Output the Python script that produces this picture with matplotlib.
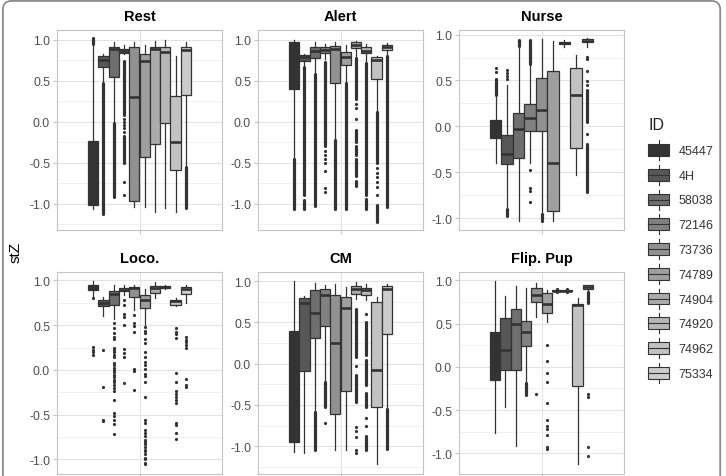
import numpy as np
import matplotlib
matplotlib.use("Agg")
import matplotlib.pyplot as plt
from matplotlib.patches import Rectangle, Patch, FancyBboxPatch
from matplotlib.lines import Line2D
from matplotlib.legend_handler import HandlerBase

plt.rcParams['font.family'] = ['Liberation Sans', 'DejaVu Sans']

# ---------------- data ----------------
IDS = ["45447", "4H", "58038", "72146", "73736", "74789", "74904", "74920", "74962", "75334"]
TITLES = ["Rest", "Alert", "Nurse", "Loco.", "CM", "Flip. Pup"]
Y_TICKS = [-1.0, -0.5, 0.0, 0.5, 1.0]

# Rest
REST_IDS = IDS
REST_WLO = [-1.065, 0.50, 0.015, 0.83, -1.045, -1.045, -1.106, -1.053, -1.106, -0.535]
REST_Q1 = [-1.02, 0.674, 0.552, 0.837, -0.963, -0.434, -0.27, -0.014, -0.585, 0.332]
REST_MED = [-0.99, 0.756, 0.89, 0.86, 0.307, 0.747, 0.89, 0.857, -0.25, 0.878]
REST_Q3 = [-0.23, 0.80, 0.91, 0.89, 0.91, 0.83, 0.91, 0.91, 0.312, 0.92]
REST_WHI = [0.95, 0.83, 0.98, 0.94, 0.97, 0.94, 0.985, 1.0, 0.81, 0.98]
REST_FLIERS = [[], [], [], [0.04, 0.0, -0.04, -0.08, -0.12, -0.74, -0.89], [], [], [], [], [], []]
REST_BANDS = [[(0.95, 1.02)], [(-1.13, 0.47)], [(-0.92, -0.01)], [(0.08, 0.74), (-0.50, -0.17)],
              [], [], [], [], [], [(-1.05, -0.55)]]

# Alert
ALERT_IDS = IDS
ALERT_WLO = [-0.455, 0.69, 0.585, 0.77, -0.21, 0.48, 0.80, 0.73, 0.137, 0.81]
ALERT_Q1 = [0.40, 0.747, 0.776, 0.837, 0.47, 0.695, 0.90, 0.837, 0.523, 0.88]
ALERT_MED = [0.95, 0.79, 0.87, 0.88, 0.89, 0.79, 0.94, 0.87, 0.76, 0.91]
ALERT_Q3 = [0.97, 0.815, 0.91, 0.91, 0.93, 0.85, 0.97, 0.91, 0.79, 0.94]
ALERT_WHI = [1.0, 0.83, 0.98, 0.95, 0.97, 0.94, 0.99, 0.95, 0.80, 0.96]
ALERT_FLIERS = [[], [], [], [-0.36, -0.41, -0.45, -0.5, -0.6, -0.81, -0.86], [], [],
                [0.22, 0.17, 0.03], [], [-0.56, -0.62, -0.68, -0.74, -0.80, -0.9], []]
ALERT_BANDS = [[(-1.065, -0.46)], [(-0.90, 0.67), (-1.06, -0.95)], [(-1.03, 0.58)], [(-0.30, 0.73)],
               [(-1.06, -0.22)], [(-1.06, 0.47)],
               [(0.28, 0.78), (-0.25, -0.10), (-0.41, -0.29), (-0.66, -0.45), (-0.78, -0.72)],
               [(-0.90, 0.72), (-1.06, -0.94)], [(-0.50, 0.12), (-1.22, -1.02)], [(-1.04, 0.80)]]

# Nurse (74920 absent)
NURSE_IDS = ["45447", "4H", "58038", "72146", "73736", "74789", "74904", "74962", "75334"]
NURSE_WLO = [-0.397, -0.88, -1.03, -0.40, -0.93, -1.03, 0.87, -0.528, 0.86]
NURSE_Q1 = [-0.126, -0.415, -0.345, -0.05, -0.05, -0.92, 0.895, -0.232, 0.916]
NURSE_MED = [-0.06, -0.30, -0.024, 0.086, 0.177, -0.40, 0.905, 0.342, 0.934]
NURSE_Q3 = [0.068, -0.09, 0.148, 0.24, 0.525, 0.598, 0.915, 0.634, 0.952]
NURSE_WHI = [0.32, 0.45, 0.87, 0.67, 0.956, 0.927, 0.945, 0.78, 0.963]
NURSE_FLIERS = [[0.59, 0.634], [0.61, 0.58, 0.55, 0.52], [], [-0.48, -0.67, -0.70, -0.82], [], [], [], [],
                [0.76, 0.73, 0.605, 0.49, 0.45, -0.08]]
NURSE_BANDS = [[(0.34, 0.52)], [(-0.98, -0.90)], [(0.88, 0.945)], [(0.68, 0.945)], [(-1.03, -0.955)],
               [], [], [], [(0.05, 0.40), (-0.72, -0.19)]]

# Loco.
LOCO_IDS = IDS
LOCO_WLO = [0.83, 0.604, 0.567, 0.833, 0.667, 0.50, 0.80, 0.90, 0.711, 0.75]
LOCO_Q1 = [0.889, 0.711, 0.73, 0.878, 0.815, 0.696, 0.859, 0.915, 0.722, 0.844]
LOCO_MED = [0.915, 0.75, 0.844, 0.896, 0.915, 0.785, 0.915, 0.926, 0.767, 0.90]
LOCO_Q3 = [0.944, 0.785, 0.88, 0.915, 0.926, 0.833, 0.937, 0.937, 0.785, 0.926]
LOCO_WHI = [0.99, 0.815, 0.95, 0.944, 0.944, 0.907, 0.98, 0.95, 0.804, 0.95]
LOCO_FLIERS = [
    [0.80, 0.26, 0.22, 0.196, 0.167],
    [0.22, -0.185, -0.555, -0.574],
    [0.52, 0.47, 0.41, 0.37, 0.35, 0.25, 0.22, 0.196, 0.167, 0.14, 0.08, 0.056, 0.026, 0.0, -0.026,
     -0.055, -0.08, -0.11, -0.137, -0.17, -0.2, -0.24, -0.33, -0.48, -0.51, -0.555, -0.6, -0.71],
    [0.785, 0.73, 0.63, 0.59, 0.5, 0.233, 0.185, 0.148, -0.148],
    [0.61, 0.52, 0.49, 0.42, 0.01, -0.01, -0.222],
    [0.48, 0.44, 0.41, 0.35, 0.3, 0.2, 0.148, 0.093, 0.056, 0.01, -0.04, -0.07, -0.13, -0.3, -0.555,
     -0.59, -0.667, -0.7, -0.74, -0.78, -0.8, -0.83, -0.86, -0.89, -0.91, -0.94, -0.98, -1.0, -1.04, -1.055],
    [],
    [],
    [0.463, 0.426, 0.4, 0.36, -0.037, -0.13, -0.24, -0.27, -0.3, -0.33, -0.37, -0.59, -0.61, -0.7, -0.77],
    [0.37, 0.34, 0.31, 0.28, 0.25, -0.1, -0.167, -0.193],
]
LOCO_BANDS = [[] for _ in IDS]

# CM
CM_IDS = IDS
CM_WLO = [-1.065, -1.08, -0.58, -0.20, -1.044, -1.044, 0.786, 0.766, -1.214, -0.54]
CM_Q1 = [-0.943, -0.095, 0.309, 0.45, -0.608, -0.333, 0.84, 0.826, -0.527, 0.36]
CM_MED = [-0.90, 0.737, 0.616, 0.834, 0.253, 0.673, 0.907, 0.887, -0.083, 0.90]
CM_Q3 = [0.39, 0.80, 0.895, 0.903, 0.826, 0.806, 0.94, 0.92, 0.745, 0.935]
CM_WHI = [1.0, 0.82, 0.976, 0.95, 0.968, 0.927, 0.99, 0.96, 0.806, 0.96]
CM_FLIERS = [[], [], [], [-0.72], [], [], [-0.03, -0.77, -0.81, -0.89, -1.05, -1.08],
             [0.6, -0.66, -0.76], [], []]
CM_BANDS = [[], [], [(-1.05, -0.59)], [(-0.53, -0.22)], [], [], [(0.08, 0.66), (-0.47, -0.14)],
            [(0.10, 0.50), (-0.26, 0.04), (-0.53, -0.35), (-1.05, -0.87)], [], [(-1.03, -0.55)]]

# Flip. Pup
FLIP_IDS = IDS
FLIP_WLO = [-0.765, -0.46, -0.92, -0.18, 0.575, 0.517, 0.87, 0.872, -1.124, 0.865]
FLIP_Q1 = [-0.147, -0.042, -0.042, 0.24, 0.75, 0.62, 0.876, 0.878, -0.224, 0.903]
FLIP_MED = [0.10, 0.2, 0.49, 0.4, 0.834, 0.73, 0.88, 0.882, 0.718, 0.923]
FLIP_Q3 = [0.40, 0.568, 0.67, 0.525, 0.915, 0.853, 0.885, 0.886, 0.73, 0.942]
FLIP_WHI = [0.99, 0.815, 0.94, 0.915, 0.97, 0.89, 0.89, 0.892, 0.795, 0.95]
FLIP_FLIERS = [[], [], [], [], [-0.32],
               [0.255, 0.062, -0.07, -0.178, -0.417, -0.614, -0.68, -0.718, -0.788, -0.93, -0.95],
               [0.86, 0.90], [0.86, 0.90], [], [-0.32, -0.35, -0.93, -1.027]]
FLIP_BANDS = [[], [], [], [(-0.33, -0.19)], [], [], [], [], [], [(0.74, 0.86)]]

# ---------------- style / layout ----------------
# ggplot-like grey fill scale (start 0.2, end 0.8, gamma 2.2)
_g = (np.linspace(0.2 ** 2.2, 0.8 ** 2.2, len(IDS))) ** (1 / 2.2)
COLORS = {k: (v, v, v) for k, v in zip(IDS, _g)}
EDGE = "#333333"

W, H = 726, 477
fig = plt.figure(figsize=(W / 100, H / 100), dpi=100)

panel_px = [  # left, top, right, bottom in pixels
    (57, 31, 222, 231), (258, 31, 423, 231), (459, 31, 624, 231),
    (57, 273, 222, 475), (258, 273, 423, 475), (459, 273, 624, 475),
]
YLIMS = [(-1.322, 1.122), (-1.322, 1.122), (-1.13, 1.05),
         (-1.162, 1.094), (-1.336, 1.109), (-1.24, 1.097)]

PANELS = [
    (REST_IDS, REST_WLO, REST_Q1, REST_MED, REST_Q3, REST_WHI, REST_FLIERS, REST_BANDS),
    (ALERT_IDS, ALERT_WLO, ALERT_Q1, ALERT_MED, ALERT_Q3, ALERT_WHI, ALERT_FLIERS, ALERT_BANDS),
    (NURSE_IDS, NURSE_WLO, NURSE_Q1, NURSE_MED, NURSE_Q3, NURSE_WHI, NURSE_FLIERS, NURSE_BANDS),
    (LOCO_IDS, LOCO_WLO, LOCO_Q1, LOCO_MED, LOCO_Q3, LOCO_WHI, LOCO_FLIERS, LOCO_BANDS),
    (CM_IDS, CM_WLO, CM_Q1, CM_MED, CM_Q3, CM_WHI, CM_FLIERS, CM_BANDS),
    (FLIP_IDS, FLIP_WLO, FLIP_Q1, FLIP_MED, FLIP_Q3, FLIP_WHI, FLIP_FLIERS, FLIP_BANDS),
]

for k, (title, pdata, px, ylim) in enumerate(zip(TITLES, PANELS, panel_px, YLIMS)):
    l, t, r, b = px
    ax = fig.add_axes([l / W, 1 - b / H, (r - l) / W, (b - t) / H])
    ids, wlo, q1, med, q3, whi, fl, bands = pdata
    n = len(ids)
    w = 0.75 / n
    pos = [1 - 0.375 + (i + 0.5) * w for i in range(n)]
    stats = [dict(whislo=wlo[i], q1=q1[i], med=med[i], q3=q3[i], whishi=whi[i],
                  fliers=fl[i], label=ids[i]) for i in range(n)]
    bp = ax.bxp(stats, positions=pos, widths=w, patch_artist=True, showcaps=False,
                manage_ticks=False,
                boxprops=dict(edgecolor=EDGE, linewidth=0.9),
                medianprops=dict(color=EDGE, linewidth=1.9, solid_capstyle='butt'),
                whiskerprops=dict(color=EDGE, linewidth=0.9),
                flierprops=dict(marker='o', markersize=2.3, markerfacecolor=EDGE,
                                markeredgecolor='none'))
    for patch, idn in zip(bp['boxes'], ids):
        patch.set_facecolor(COLORS[idn])
    for p, bl in zip(pos, bands):
        for lo, hi in bl:
            lc = ax.vlines(p, lo, hi, colors=EDGE, linewidth=2.3, zorder=3)
            lc.set_capstyle('round')

    ax.set_xlim(0.4, 1.6)
    ax.set_ylim(*ylim)
    ax.set_xticks([1.0])
    ax.set_xticklabels([])
    ax.set_yticks(Y_TICKS)
    ax.set_yticklabels([f"{v:.1f}" for v in Y_TICKS])
    minors = [v for v in np.arange(-1.25, 1.3, 0.5) if ylim[0] < v < ylim[1]]
    ax.set_yticks(minors, minor=True)
    ax.tick_params(axis='y', which='minor', length=0)
    ax.set_axisbelow(True)
    ax.grid(which='major', color='#e3e3e3', linewidth=0.8)
    ax.grid(which='minor', axis='y', color='#efefef', linewidth=0.6)
    for s in ax.spines.values():
        s.set_color('#c4c4c4')
        s.set_linewidth(0.8)
    ax.tick_params(which='major', direction='out', length=3, color='#c4c4c4',
                   labelsize=8.7, labelcolor='#4d4d4d', pad=2)
    ax.set_title(title, fontsize=10.5, fontweight='bold', pad=7)

fig.text(16 / W, 1 - 252 / H, "stZ", rotation=90, fontsize=11, ha='center', va='center')


class BoxHandler(HandlerBase):
    def create_artists(self, legend, orig_handle, xdescent, ydescent, width, height,
                       fontsize, trans):
        fc = orig_handle.get_facecolor()
        x0, y0 = -xdescent, -ydescent
        bh = height * 0.58
        by = y0 + (height - bh) / 2
        cx = x0 + width / 2
        rect = Rectangle((x0, by), width, bh, facecolor=fc, edgecolor=EDGE, lw=0.8,
                         transform=trans)
        med = Line2D([x0, x0 + width], [y0 + height / 2] * 2, color=EDGE, lw=0.8,
                     transform=trans)
        w1 = Line2D([cx, cx], [y0, by], color=EDGE, lw=0.8, transform=trans)
        w2 = Line2D([cx, cx], [by + bh, y0 + height], color=EDGE, lw=0.8, transform=trans)
        return [w1, w2, rect, med]


fig.text(648 / W, 1 - 125 / H, "ID", fontsize=11.5, ha='left', va='center', color='#222222')

handles = [Patch(facecolor=COLORS[i], label=i) for i in IDS]
leg = fig.legend(handles=handles, handler_map={Patch: BoxHandler()}, loc='upper left',
                 bbox_to_anchor=(648 / W, 1 - 141 / H), frameon=False,
                 fontsize=9, handlelength=1.7, handleheight=2.1,
                 labelspacing=0.37, handletextpad=0.75,
                 borderaxespad=0, borderpad=0)
for txt in leg.get_texts():
    txt.set_color('#333333')

border = FancyBboxPatch((0.004, -0.03), 0.988, 1.026, boxstyle='round,pad=0,rounding_size=0.012',
                        transform=fig.transFigure, facecolor='none', edgecolor='#8c8c8c',
                        linewidth=1.3, mutation_aspect=W / H, clip_on=False)
fig.patches.append(border)

fig.savefig("out.png", dpi=100)
